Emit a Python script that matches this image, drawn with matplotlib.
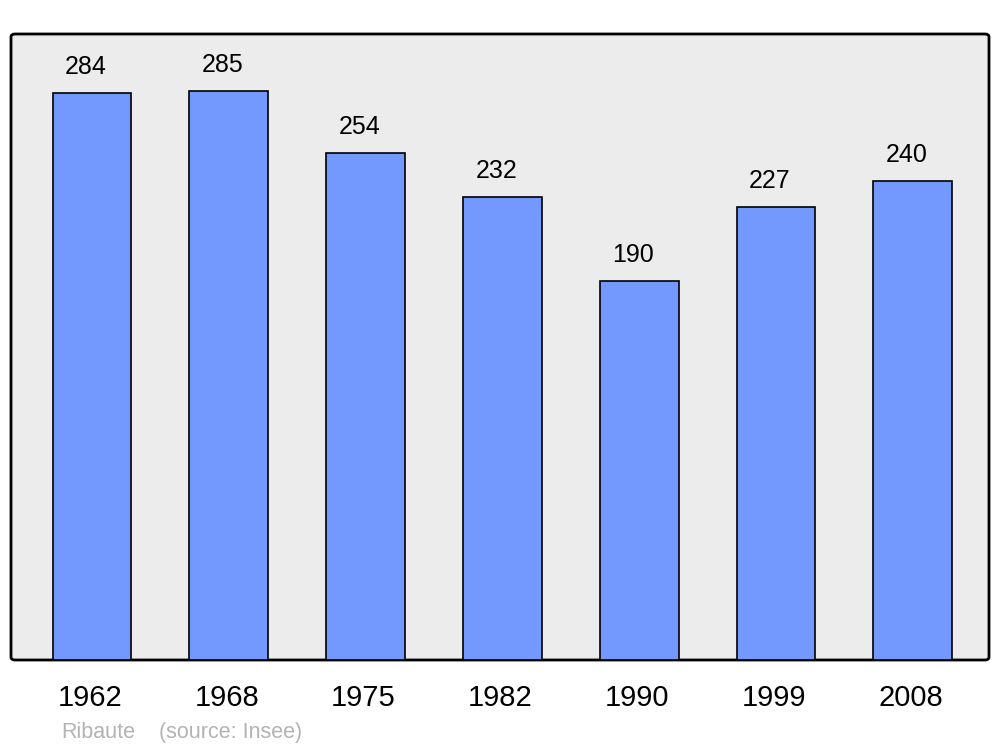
import matplotlib
matplotlib.use("Agg")
import matplotlib.pyplot as plt
import matplotlib.transforms as mtransforms
from matplotlib.patches import FancyBboxPatch

years = ["1962", "1968", "1975", "1982", "1990", "1999", "2008"]
population = [284, 285, 254, 232, 190, 227, 240]
commune = "Ribaute"
source = "(source: Insee)"

plt.rcParams['font.family'] = ['Liberation Sans', 'DejaVu Sans']

fig = plt.figure(figsize=(10, 7.47), dpi=100)
ax = fig.add_axes([0.011, 1 - 660/747, 0.978, (660-34)/747])
ax.set_facecolor('none')
# rounded frame behind the axes
frame = FancyBboxPatch((0.011, 1 - 660/747), 0.978, (660-34)/747,
                       boxstyle="round,pad=0,rounding_size=0.004",
                       transform=fig.transFigure, facecolor='#ececec',
                       edgecolor='black', linewidth=2, zorder=-1)
fig.patches.append(frame)

x = list(range(len(years)))
ax.bar(x, population, width=0.575, color='#7399ff', edgecolor='black', linewidth=1.2, zorder=2)
for xi, v in zip(x, population):
    ax.annotate(str(v), (xi, v), xytext=(-4.5, 14), textcoords='offset points',
                ha='center', va='baseline', fontsize=18)
ax.set_xlim(-0.592, 6.557)
ax.set_ylim(0, 313.8)
ax.set_yticks([])
ax.set_xticks(x)
ax.set_xticklabels(years, fontsize=21)
ax.tick_params(axis='x', length=0, pad=17)
shift = mtransforms.ScaledTranslation(-2/100, 0, fig.dpi_scale_trans)
for lbl in ax.get_xticklabels():
    lbl.set_transform(lbl.get_transform() + shift)
for s in ax.spines.values():
    s.set_visible(False)
fig.text(0.061, 1 - 738/747, commune, color='#b3b3b3', fontsize=15.5, va='baseline')
fig.text(0.159, 1 - 738/747, source, color='#b3b3b3', fontsize=15.5, va='baseline')
fig.savefig('out.png', dpi=100, facecolor='white')
